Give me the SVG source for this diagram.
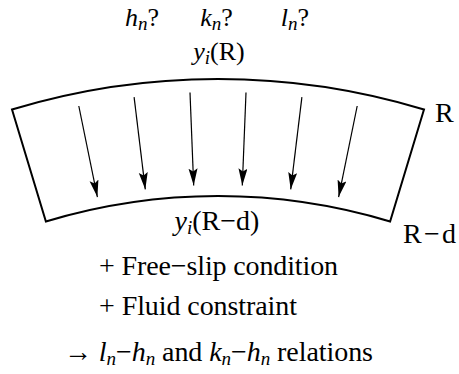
<svg xmlns="http://www.w3.org/2000/svg" width="459" height="374" viewBox="0 0 459 374" font-family="Liberation Serif, Times New Roman, serif">
<style>
text{font-size:28px;fill:#000}
.sm{font-size:26px}
.it{font-style:italic}
.sub{font-size:19px;font-style:italic}
.shape{fill:none;stroke:#000;stroke-width:2}
.arr{fill:none;stroke:#000;stroke-width:1.2;marker-end:url(#ah)}
</style>
<defs>
<marker id="ah" markerUnits="userSpaceOnUse" markerWidth="18" markerHeight="10" refX="17" refY="4.5" orient="auto">
<path d="M0,0 L17,4.5 L0,9 L3,4.5 Z" fill="#000"/>
</marker>
</defs>
<g id="labels-top">
<text class="sm" x="142" y="26" text-anchor="middle"><tspan class="it">h</tspan><tspan class="sub" dy="4">n</tspan><tspan dy="-4">?</tspan></text>
<text class="sm" x="216.5" y="26" text-anchor="middle"><tspan class="it">k</tspan><tspan class="sub" dy="4">n</tspan><tspan dy="-4">?</tspan></text>
<text class="sm" x="295" y="26" text-anchor="middle"><tspan class="it">l</tspan><tspan class="sub" dy="4">n</tspan><tspan dy="-4">?</tspan></text>
</g>
<g id="shell">
<path class="shape" d="M12,109.5 A711,711 0 0 1 424,109.5 L390.1,221.5 A594,594 0 0 0 45.9,221.5 Z"/>
<text class="sm" x="219" y="60" text-anchor="middle"><tspan class="it">y</tspan><tspan class="sub" dy="4">i</tspan><tspan dy="-4">(R)</tspan></text>
<text x="217" y="230" text-anchor="middle"><tspan class="it">y</tspan><tspan class="sub" dy="4">i</tspan><tspan dy="-4">(R−d)</tspan></text>
<text x="435" y="122">R</text>
<text x="403" y="243" textLength="53">R−d</text>
</g>
<g id="connectors">
<line class="arr" x1="78.8" y1="106" x2="97.4" y2="197.1"/>
<line class="arr" x1="134.1" y1="97.1" x2="145.3" y2="189.4"/>
<line class="arr" x1="190" y1="92.6" x2="193.7" y2="185.5"/>
<line class="arr" x1="246" y1="92.6" x2="242.3" y2="185.5"/>
<line class="arr" x1="301.9" y1="97.1" x2="290.7" y2="189.4"/>
<line class="arr" x1="357.2" y1="106" x2="338.6" y2="197.1"/>
</g>
<g id="notes">
<text x="99" y="275" textLength="239">+ Free−slip condition</text>
<text x="99" y="315" textLength="198">+ Fluid constraint</text>
<text x="64" y="361" textLength="309">→ <tspan class="it">l</tspan><tspan class="sub" dy="4">n</tspan><tspan dy="-4">−</tspan><tspan class="it">h</tspan><tspan class="sub" dy="4">n</tspan><tspan dy="-4"> and </tspan><tspan class="it">k</tspan><tspan class="sub" dy="4">n</tspan><tspan dy="-4">−</tspan><tspan class="it">h</tspan><tspan class="sub" dy="4">n</tspan><tspan dy="-4"> relations</tspan></text>
</g>
</svg>
